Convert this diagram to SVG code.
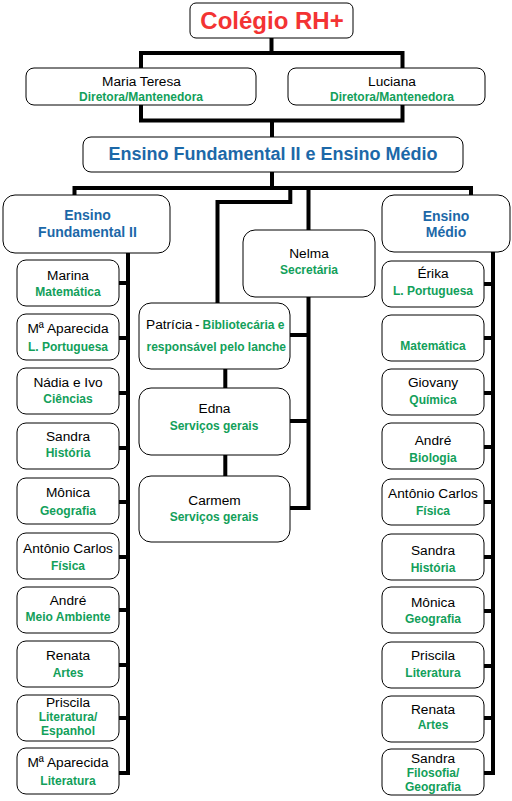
<svg xmlns="http://www.w3.org/2000/svg" width="512" height="801" viewBox="0 0 512 801">
<style>
.box{fill:#fff;stroke:#000;stroke-width:1}
text{font-family:"Liberation Sans",Arial,sans-serif}
.nm{font-size:13.7px;fill:#000;text-anchor:middle}
.sb{font-size:12px;font-weight:bold;fill:#12a05a;text-anchor:middle}
.hd{font-size:14px;font-weight:bold;fill:#1c68a8;text-anchor:middle}
.cn{fill:none;stroke:#000;stroke-width:4;stroke-linecap:square;stroke-linejoin:miter}
</style>
<rect width="512" height="801" fill="#fff"/>
<g id="connectors" class="cn">
<path d="M141,68 V53 H402.5 V68 M271.5,38 V53"/>
<path d="M141,105 V120.5 H402.5 V105 M272,120.5 V137"/>
<path d="M272,172 V188 M74.5,195 V188 H471 V195"/>
<path d="M290.3,188 V202 H217.5 V303"/>
<path d="M308.5,188 V230 M308.5,297 V508 H290 M290,335 H308.5 M290,421 H308.5"/>
<path d="M225.3,369 V388 M225.3,455 V476"/>
<path d="M128,253 V773 M119,283 H128 M119,338 H128 M119,393 H128 M119,448 H128 M119,502 H128 M119,557 H128 M119,610 H128 M119,665 H128 M119,718 H128 M119,773 H128"/>
<path d="M493,252 V773 M484,284 H493 M484,338 H493 M484,393 H493 M484,447 H493 M484,502 H493 M484,557 H493 M484,611 H493 M484,666 H493 M484,718 H493 M484,773 H493"/>
</g>
<g id="title"><rect class="box" x="190" y="3" width="163" height="35" rx="6"/><text x="272" y="28.5" style="font-size:24px;font-weight:bold;fill:#f33333;text-anchor:middle">Colégio RH+</text></g>
<g id="maria-teresa"><rect class="box" x="26" y="68" width="230" height="37" rx="8"/><text class="nm" x="141.5" y="86">Maria Teresa</text><text class="sb" x="141" y="101">Diretora/Mantenedora</text></g>
<g id="luciana"><rect class="box" x="288" y="68" width="197" height="37" rx="8"/><text class="nm" x="392" y="85.5">Luciana</text><text class="sb" x="392" y="101">Diretora/Mantenedora</text></g>
<g id="ensino"><rect class="box" x="83" y="137" width="380" height="35" rx="8"/><text x="273" y="159.5" style="font-size:18px;font-weight:bold;fill:#1c68a8;text-anchor:middle">Ensino Fundamental II e Ensino Médio</text></g>
<g id="ef2"><rect class="box" x="3" y="195" width="167" height="58" rx="12"/><text class="hd" x="87.5" y="220">Ensino</text><text class="hd" x="87.5" y="237">Fundamental II</text></g>
<g id="em"><rect class="box" x="382" y="195" width="128" height="57" rx="12"/><text class="hd" x="446" y="221">Ensino</text><text class="hd" x="446" y="237">Médio</text></g>
<g id="nelma"><rect class="box" x="243" y="230" width="132" height="67" rx="12"/><text class="nm" x="309" y="257.5">Nelma</text><text class="sb" x="309" y="273.5">Secretária</text></g>
<g id="patricia"><rect class="box" x="139" y="303" width="151" height="66" rx="12"/><text style="font-size:13.7px;fill:#000" x="146" y="329.3">Patrícia<tspan x="195">-</tspan><tspan x="202.5" style="font-size:12px;font-weight:bold;fill:#12a05a">Bibliotecária e</tspan></text><text style="font-size:12px;font-weight:bold;fill:#12a05a" x="146.5" y="350.5">responsável pelo lanche</text></g>
<g id="edna"><rect class="box" x="139" y="388" width="151" height="67" rx="12"/><text class="nm" x="214.5" y="413.3">Edna</text><text class="sb" x="214" y="429.5">Serviços gerais</text></g>
<g id="carmem"><rect class="box" x="139" y="476" width="151" height="66" rx="12"/><text class="nm" x="214.5" y="505">Carmem</text><text class="sb" x="214" y="521">Serviços gerais</text></g>
<g id="l1"><rect class="box" x="17" y="260" width="102" height="46" rx="9"/><text class="nm" x="68" y="280">Marina</text><text class="sb" x="68" y="296">Matemática</text></g>
<g id="l2"><rect class="box" x="17" y="314" width="102" height="46" rx="9"/><text class="nm" x="68" y="333">Mª Aparecida</text><text class="sb" x="68" y="351">L. Portuguesa</text></g>
<g id="l3"><rect class="box" x="17" y="368" width="102" height="46" rx="9"/><text class="nm" x="68" y="387">Nádia e Ivo</text><text class="sb" x="68" y="403">Ciências</text></g>
<g id="l4"><rect class="box" x="17" y="423" width="102" height="46" rx="9"/><text class="nm" x="68" y="441">Sandra</text><text class="sb" x="68" y="457">História</text></g>
<g id="l5"><rect class="box" x="17" y="478" width="102" height="46" rx="9"/><text class="nm" x="68" y="497">Mônica</text><text class="sb" x="68" y="515">Geografia</text></g>
<g id="l6"><rect class="box" x="17" y="533" width="102" height="46" rx="9"/><text class="nm" x="68" y="553">Antônio Carlos</text><text class="sb" x="68" y="570">Física</text></g>
<g id="l7"><rect class="box" x="17" y="587" width="102" height="46" rx="9"/><text class="nm" x="68" y="605">André</text><text class="sb" x="68" y="621">Meio Ambiente</text></g>
<g id="l8"><rect class="box" x="17" y="641" width="102" height="46" rx="9"/><text class="nm" x="68" y="660">Renata</text><text class="sb" x="68" y="677">Artes</text></g>
<g id="l9"><rect class="box" x="17" y="695" width="102" height="46" rx="9"/><text class="nm" x="68" y="707">Priscila</text><text class="sb" x="68" y="721">Literatura/</text><text class="sb" x="68" y="734.5">Espanhol</text></g>
<g id="l10"><rect class="box" x="17" y="748" width="102" height="46" rx="9"/><text class="nm" x="68" y="767">Mª Aparecida</text><text class="sb" x="68" y="785">Literatura</text></g>
<g id="r1"><rect class="box" x="382" y="261" width="102" height="46" rx="9"/><text class="nm" x="433" y="278">Érika</text><text class="sb" x="433" y="295">L. Portuguesa</text></g>
<g id="r2"><rect class="box" x="382" y="315" width="102" height="46" rx="9"/><text class="sb" x="433" y="350">Matemática</text></g>
<g id="r3"><rect class="box" x="382" y="369" width="102" height="46" rx="9"/><text class="nm" x="433" y="387">Giovany</text><text class="sb" x="433" y="404">Química</text></g>
<g id="r4"><rect class="box" x="382" y="423" width="102" height="46" rx="9"/><text class="nm" x="433" y="445">André</text><text class="sb" x="433" y="462">Biologia</text></g>
<g id="r5"><rect class="box" x="382" y="479" width="102" height="46" rx="9"/><text class="nm" x="433" y="498">Antônio Carlos</text><text class="sb" x="433" y="515">Física</text></g>
<g id="r6"><rect class="box" x="382" y="534" width="102" height="46" rx="9"/><text class="nm" x="433" y="555">Sandra</text><text class="sb" x="433" y="572">História</text></g>
<g id="r7"><rect class="box" x="382" y="587" width="102" height="46" rx="9"/><text class="nm" x="433" y="607">Mônica</text><text class="sb" x="433" y="623">Geografia</text></g>
<g id="r8"><rect class="box" x="382" y="642" width="102" height="46" rx="9"/><text class="nm" x="433" y="660">Priscila</text><text class="sb" x="433" y="677">Literatura</text></g>
<g id="r9"><rect class="box" x="382" y="696" width="102" height="46" rx="9"/><text class="nm" x="433" y="714">Renata</text><text class="sb" x="433" y="729">Artes</text></g>
<g id="r10"><rect class="box" x="382" y="749" width="102" height="46" rx="9"/><text class="nm" x="433" y="763">Sandra</text><text class="sb" x="433" y="777">Filosofia/</text><text class="sb" x="433" y="791">Geografia</text></g>
</svg>
